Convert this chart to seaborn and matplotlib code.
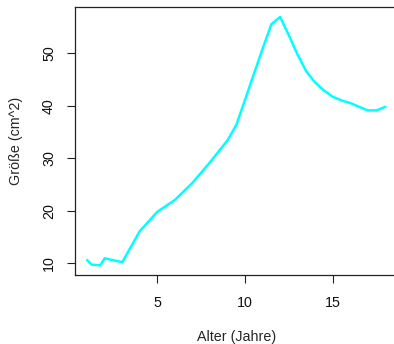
import matplotlib
matplotlib.use("Agg")
import matplotlib.pyplot as plt
import seaborn as sns
import pandas as pd

# Age in years and measured size in cm^2
alter = [1, 1.25, 1.75, 2, 3, 4, 5, 6, 7, 8, 9, 9.5, 10, 10.5, 11, 11.5,
         12, 12.5, 13, 13.5, 14, 14.5, 15, 15.5, 16, 16.5, 17, 17.5, 18]
groesse = [10.6, 9.75, 9.6, 10.95, 10.2, 16.1, 19.8, 22.05, 25.3, 29.2,
           33.4, 36.3, 41.1, 46.0, 50.8, 55.5, 56.9, 53.4, 49.7, 46.5,
           44.4, 42.9, 41.7, 41.0, 40.5, 39.8, 39.1, 39.1, 39.8]
x_ticks = [5, 10, 15]
y_ticks = [10, 20, 30, 40, 50]

df = pd.DataFrame({"Alter": alter, "Groesse": groesse})

sns.set_style("ticks")
plt.rcParams["font.family"] = ["Liberation Sans", "DejaVu Sans"]

W, H = 394, 344
fig = plt.figure(figsize=(W / 100, H / 100), dpi=100)
left, right, top, bottom = 75.2, 397.3, 7.0, 275.3
ax = fig.add_axes([left / W, (H - bottom) / H, (right - left) / W, (bottom - top) / H])

sns.lineplot(data=df, x="Alter", y="Groesse", color="#00FFFF", linewidth=1.8, ax=ax)

# axis ranges with 4% padding around the data
xmin, xmax = min(alter), max(alter)
ymin, ymax = min(groesse), max(groesse)
xp = (xmax - xmin) * 0.04
yp = (ymax - ymin) * 0.04
ax.set_xlim(xmin - xp, xmax + xp)
ax.set_ylim(ymin - yp, ymax + yp)

fs = 10.3
ax.set_xticks(x_ticks)
ax.set_yticks(y_ticks)
ax.tick_params(axis="both", direction="out", length=5.8, width=0.8,
               color="#222222", labelsize=fs, labelcolor="#111111")
ax.tick_params(axis="x", pad=9)
ax.tick_params(axis="y", pad=8, labelrotation=90)
for lab in ax.get_yticklabels():
    lab.set_va("center")

for side in ["left", "bottom", "top", "right"]:
    ax.spines[side].set_visible(True)
    ax.spines[side].set_linewidth(0.9)
    ax.spines[side].set_color("#222222")

ax.set_xlabel("Alter (Jahre)", fontsize=fs, labelpad=14.5)
ax.set_ylabel("Größe (cm^2)", fontsize=fs, labelpad=13.5)

fig.savefig("out.png", dpi=100)
